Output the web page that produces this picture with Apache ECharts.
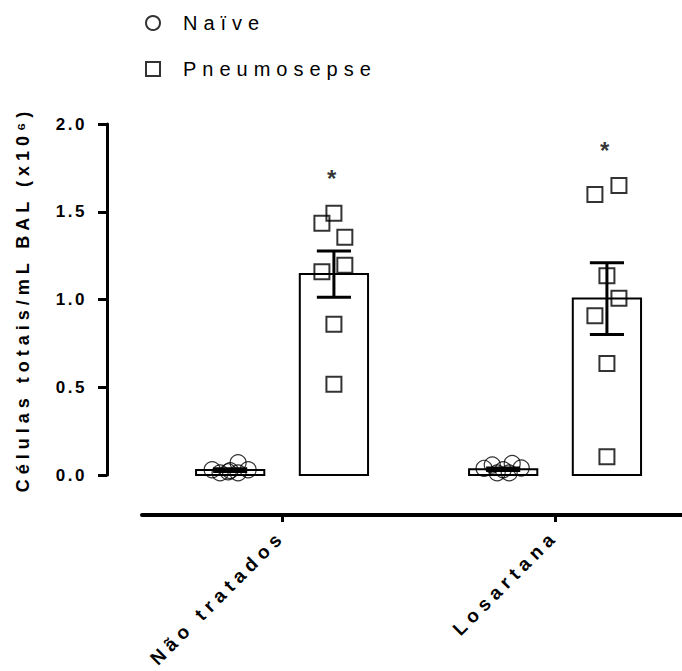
<!DOCTYPE html>
<html><head><meta charset="utf-8">
<script src="https://cdn.jsdelivr.net/npm/echarts@6/dist/echarts.min.js"></script>
<style>
html,body{margin:0;padding:0;background:#fff}
#c{width:682px;height:671px}
#c svg text[style*="bold"][style*="18px"]{letter-spacing:5px}
#c svg text[style*="bold"][style*="19px"]{letter-spacing:5.5px}
#c svg text[style*="bold"][style*="17px"]{letter-spacing:2.5px}
#c svg text[style*="20px"]{letter-spacing:6px}
</style></head><body><div id="c"></div>
<script>
// ---- data ----
const categories = ['Não tratados', 'Losartana'];
const seriesNames = ['Naïve', 'Pneumosepse'];
const naiveMean = [0.028, 0.033];
const naiveSem = [0.008, 0.007];
const pneumoMean = [1.145, 1.005];
const pneumoSem = [0.132, 0.205];
const naivePoints = [
  [0.030, 0.012, 0.018, 0.070, 0.012, 0.030, 0.025],
  [0.038, 0.057, 0.012, 0.012, 0.066, 0.040, 0.030]
];
const naiveJitter = [
  [-0.066, -0.037, -0.007, 0.029, 0.029, 0.066, 0.0],
  [-0.070, -0.040, -0.022, 0.022, 0.033, 0.066, 0.0]
];
const pneumoPoints = [
  [1.491, 1.434, 1.354, 1.195, 1.158, 0.859, 0.517],
  [1.649, 1.599, 1.136, 1.007, 0.908, 0.636, 0.104]
];
const pneumoJitter = [
  [0.0, -0.044, 0.040, 0.040, -0.044, 0.0, 0.0],
  [0.044, -0.044, 0.0, 0.044, -0.044, 0.0, 0.0]
];
const starLevels = [1.687, 1.847];
const starText = '*';
const yTitle = 'Células totais/mL BAL (x10⁶)';

// ---- layout constants ----
const GROUP_OFF = 0.19;
const BAR_W = 0.25;
const CAP_W = 0.125;
const FONT = "'Liberation Sans', Arial, sans-serif";

const barData = [];
const naiveScatter = [];
const pneumoScatter = [];
const starData = [];
categories.forEach((c, i) => {
  barData.push([i - GROUP_OFF, naiveMean[i], naiveSem[i]]);
  barData.push([i + GROUP_OFF, pneumoMean[i], pneumoSem[i]]);
  naivePoints[i].forEach((v, j) => naiveScatter.push([i - GROUP_OFF + naiveJitter[i][j], v]));
  pneumoPoints[i].forEach((v, j) => pneumoScatter.push([i + GROUP_OFF + pneumoJitter[i][j], v]));
  starData.push([i + GROUP_OFF - 0.008, starLevels[i]]);
});

function renderBars(params, api) {
  const x = api.value(0), m = api.value(1), s = api.value(2);
  const w = api.size([BAR_W, 0])[0];
  const cw = api.size([CAP_W, 0])[0];
  const top = api.coord([x, m]);
  const base = api.coord([x, 0]);
  const hi = api.coord([x, m + s]);
  const lo = api.coord([x, Math.max(0, m - s)]);
  const ls = { stroke: '#000', lineWidth: 3 };
  return {
    type: 'group',
    children: [
      { type: 'rect', shape: { x: top[0] - w / 2, y: top[1], width: w, height: base[1] - top[1] },
        style: { fill: '#fff', stroke: '#000', lineWidth: 2 } },
      { type: 'line', shape: { x1: hi[0], y1: hi[1], x2: lo[0], y2: lo[1] }, style: ls },
      { type: 'line', shape: { x1: hi[0] - cw / 2, y1: hi[1], x2: hi[0] + cw / 2, y2: hi[1] }, style: ls },
      { type: 'line', shape: { x1: lo[0] - cw / 2, y1: lo[1], x2: lo[0] + cw / 2, y2: lo[1] }, style: ls }
    ]
  };
}

const chart = echarts.init(document.getElementById('c'), null, { renderer: 'svg' });
chart.setOption({
  animation: false,
  backgroundColor: '#fff',
  textStyle: { fontFamily: FONT },
  legend: {
    data: seriesNames,
    orient: 'vertical',
    left: 140,
    top: 8,
    itemWidth: 14,
    itemHeight: 14,
    itemGap: 26,
    selectedMode: false,
    textStyle: { fontFamily: FONT, fontSize: 20, color: '#000', padding: [0, 0, 0, 18] }
  },
  grid: { left: 142, right: 0, top: 124, bottom: 196, containLabel: false },
  xAxis: {
    type: 'value',
    min: -0.513,
    max: 1.465,
    offset: 40,
    splitLine: { show: false },
    axisLine: { show: true, onZero: false, lineStyle: { color: '#000', width: 4 } },
    axisTick: { show: true, customValues: [0, 1], length: 7, lineStyle: { color: '#000', width: 3 } },
    axisLabel: {
      customValues: [0, 1],
      rotate: 45,
      margin: 18,
      fontFamily: FONT, fontSize: 19, fontWeight: 'bold', color: '#000',
      formatter: v => categories[Math.round(v)] || ''
    }
  },
  yAxis: {
    type: 'value',
    min: 0, max: 2, interval: 0.5,
    offset: 35,
    splitLine: { show: false },
    axisLine: { show: true, onZero: false, lineStyle: { color: '#000', width: 3 } },
    axisTick: { show: true, length: 9, lineStyle: { color: '#000', width: 3 } },
    axisLabel: {
      margin: 20,
      fontFamily: FONT, fontSize: 17, fontWeight: 'bold', color: '#000',
      formatter: v => v.toFixed(1)
    },
    name: yTitle,
    nameLocation: 'middle',
    nameGap: 75,
    nameTextStyle: { fontFamily: FONT, fontSize: 18, fontWeight: 'bold', color: '#000' }
  },
  series: [
    {
      type: 'custom',
      name: 'bars',
      renderItem: renderBars,
      encode: { x: 0, y: [1, 2] },
      data: barData,
      z: 1,
      silent: true
    },
    {
      type: 'scatter',
      name: seriesNames[0],
      symbol: 'circle',
      symbolSize: 16,
      itemStyle: { color: 'rgba(0,0,0,0)', borderColor: '#000', borderWidth: 1.2 },
      data: naiveScatter,
      z: 3,
      silent: true
    },
    {
      type: 'scatter',
      name: seriesNames[1],
      symbol: 'rect',
      symbolSize: 15,
      itemStyle: { color: 'rgba(0,0,0,0)', borderColor: '#000', borderWidth: 2 },
      data: pneumoScatter,
      z: 3,
      silent: true
    },
    {
      type: 'scatter',
      name: 'stars',
      symbolSize: 0,
      data: starData,
      silent: true,
      label: {
        show: true, position: 'inside', formatter: starText,
        fontFamily: FONT, fontSize: 24, fontWeight: 'bold', color: '#000'
      }
    }
  ]
});
</script></body></html>
